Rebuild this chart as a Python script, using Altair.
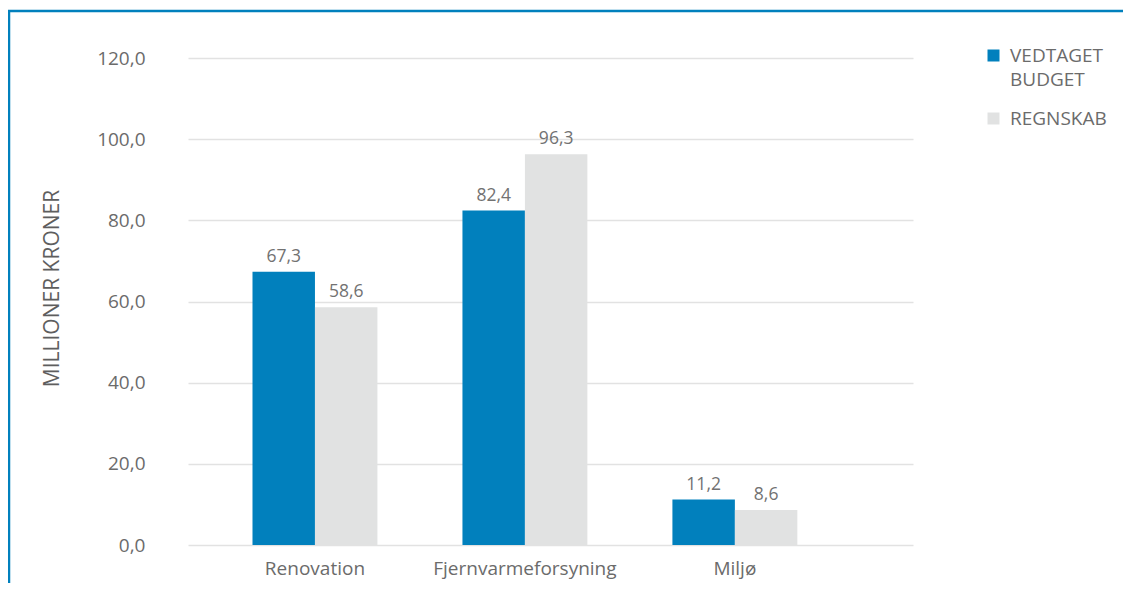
import altair as alt
import pandas as pd

categories = ["Renovation", "Fjernvarmeforsyning", "Miljø"]
series = ["VEDTAGET BUDGET", "REGNSKAB"]
budget = [67.3, 82.4, 11.2]
regnskab = [58.6, 96.3, 8.6]
y_ticks = [0, 20, 40, 60, 80, 100, 120]

rows = []
for c, b, r in zip(categories, budget, regnskab):
    rows.append({"kategori": c, "serie": series[0], "værdi": b})
    rows.append({"kategori": c, "serie": series[1], "værdi": r})
df = pd.DataFrame(rows)

BLUE = "#0180BD"
GRAY = "#E1E2E2"
FONT = "Open Sans"

x_enc = alt.X(
    "kategori:N",
    sort=categories,
    title=None,
    scale=alt.Scale(paddingInner=0.405, paddingOuter=0.429, align=0.358),
    axis=alt.Axis(labelAngle=0, ticks=False, domain=False, labelPadding=14,
                  labelFontSize=19, labelColor="#6b6b6b", labelFont=FONT,
                  labelLimit=400),
)
xo_enc = alt.XOffset("serie:N", sort=series,
                     scale=alt.Scale(paddingInner=0, paddingOuter=0))
y_enc = alt.Y(
    "værdi:Q",
    scale=alt.Scale(domain=[0, 120], nice=False),
    axis=alt.Axis(
        values=y_ticks, ticks=False, domain=False, labelPadding=43,
        labelFontSize=19, labelColor="#6b6b6b", labelFont=FONT,
        labelExpr="replace(format(datum.value, '.1f'), '.', ',')",
        gridColor="#e2e2e2", gridWidth=1.5,
        title="MILLIONER KRONER", titleFont=FONT, titleFontSize=21,
        titleFontWeight="normal", titleColor="#5e5e5e",
        titleX=-136, titleY=230, titleBaseline="middle", titleAngle=-90,
    ),
)

bars = alt.Chart(df).mark_bar().encode(
    x=x_enc,
    xOffset=xo_enc,
    y=y_enc,
    color=alt.Color(
        "serie:N", sort=series,
        scale=alt.Scale(domain=series, range=[BLUE, GRAY]),
        legend=alt.Legend(
            title=None, orient="none", legendX=796, legendY=-12,
            symbolType="square", symbolSize=144, symbolStrokeWidth=0,
            labelFont=FONT, labelFontSize=19, labelColor="#6b6b6b",
            labelOffset=7, rowPadding=19, labelLimit=300,
            labelExpr="datum.label == 'VEDTAGET BUDGET' ? ['VEDTAGET', 'BUDGET'] : datum.label",
        ),
    ),
)

labels = alt.Chart(df).transform_calculate(
    txt="replace(format(datum['værdi'], '.1f'), '.', ',')"
).mark_text(
    font=FONT, fontSize=17.5, color="#727272", baseline="alphabetic", dy=-10
).encode(
    x=alt.X("kategori:N", sort=categories),
    xOffset=alt.XOffset("serie:N", sort=series),
    y=alt.Y("værdi:Q"),
    text="txt:N",
)

one = pd.DataFrame({"d": [0]})
top_line = alt.Chart(one).mark_rule(color=BLUE, strokeWidth=2.5).encode(
    x=alt.value(-180), x2=alt.value(1000), y=alt.value(-47)
)
left_line = alt.Chart(one).mark_rule(color=BLUE, strokeWidth=2.5).encode(
    x=alt.value(-179), y=alt.value(-48), y2=alt.value(600)
)

chart = alt.layer(bars, labels, top_line, left_line).properties(
    width=725,
    height=487,
    autosize=alt.AutoSizeParams(type="none"),
    padding={"left": 180, "top": 50, "right": 210, "bottom": 38},
).configure(
    view={"stroke": None},
    style={"guide-label": {"lineHeight": 24}},
)

chart.save("out.html", embed_options={"renderer": "svg", "actions": False})
